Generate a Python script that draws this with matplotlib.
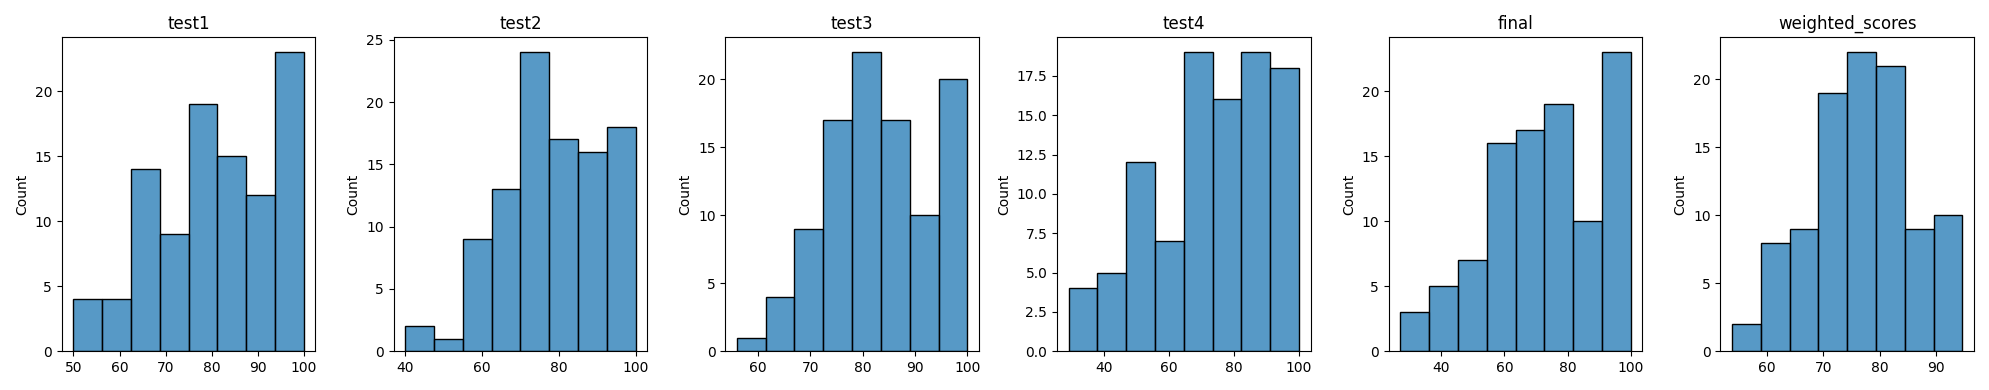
import numpy as np
import pandas as pd
import matplotlib
matplotlib.use("Agg")
import matplotlib.pyplot as plt
import seaborn as sns

# Histogram counts per column (8 bins each)
columns = ["test1", "test2", "test3", "test4", "final", "weighted_scores"]

test1_counts = [4, 4, 14, 9, 19, 15, 12, 23]
test2_counts = [2, 1, 9, 13, 24, 17, 16, 18]
test3_counts = [1, 4, 9, 17, 22, 17, 10, 20]
test4_counts = [4, 5, 12, 7, 19, 16, 19, 18]
final_counts = [3, 5, 7, 16, 17, 19, 10, 23]
weighted_counts = [2, 8, 9, 19, 22, 21, 9, 10]

# Data range (min, max) of each column
ranges = {
    "test1": (50, 100),
    "test2": (40, 100),
    "test3": (56, 100),
    "test4": (29, 100),
    "final": (27, 100),
    "weighted_scores": (53.9, 94.6),
}

counts = {
    "test1": test1_counts,
    "test2": test2_counts,
    "test3": test3_counts,
    "test4": test4_counts,
    "final": final_counts,
    "weighted_scores": weighted_counts,
}

fig, axes = plt.subplots(1, 6, figsize=(19.89, 3.9), dpi=100)

for ax, col in zip(axes, columns):
    lo, hi = ranges[col]
    c = counts[col]
    edges = np.linspace(lo, hi, len(c) + 1)
    df = pd.DataFrame({"x": (edges[:-1] + edges[1:]) / 2, "w": c})
    sns.histplot(data=df, x="x", weights="w", bins=list(edges), ax=ax)
    ax.set_title(col)
    ax.set_xlabel("")
    ax.set_ylabel("Count")

plt.tight_layout()
plt.savefig("out.png", dpi=100)
